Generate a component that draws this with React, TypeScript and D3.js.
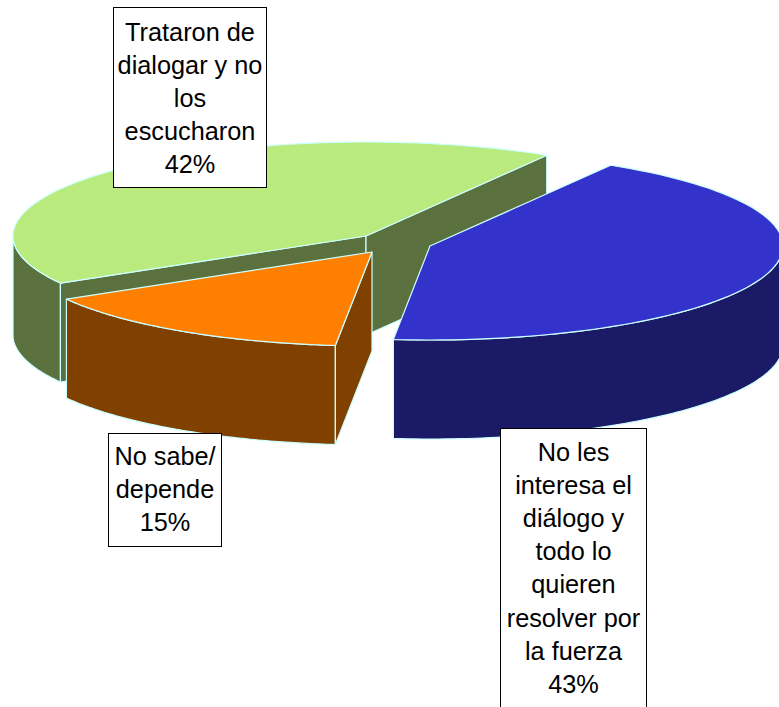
import React from "react";
import * as d3 from "d3";

const categories = ["No les interesa", "No sabe", "Trataron"];
const values = [43.1, 15, 41.9];
const labelLines = [
  ["No les", "interesa el", "diálogo y", "todo lo", "quieren", "resolver por", "la fuerza", "43%"],
  ["No sabe/", "depende", "15%"],
  ["Trataron de", "dialogar y no", "los", "escucharon", "42%"],
];
const topColors = ["#3333cc", "#ff8000", "url(#dGreen)"];
const wallColors = ["#1a1a66", "#804000", "url(#dOlive)"];
const centers: [number, number][] = [[430, 246], [372, 252], [366, 236]];
const boxes = [
  { x: 500.5, y: 428.5, w: 146, h: 290, base: 461 },
  { x: 108.5, y: 433.5, w: 113, h: 113, base: 465 },
  { x: 113.5, y: 7.5, w: 153, h: 180, base: 41 },
];

const RX = 353;
const RY = 94;
const DEPTH = 99;
const START = (30.8 * Math.PI) / 180;
const STROKE = "#ccffff";

const pie = d3.pie<number>().sort(null).startAngle(START).endAngle(START + 2 * Math.PI);
const arcs = pie(values);
const pt = (c: [number, number], t: number, dy = 0): [number, number] => [
  c[0] + RX * Math.sin(t),
  c[1] - RY * Math.cos(t) + dy,
];
const sample = (c: [number, number], a: number, b: number, dy = 0) =>
  d3.range(0, 81).map((i) => pt(c, a + ((b - a) * i) / 80, dy));
const line = d3.line();
const closed = (p: [number, number][]) => line(p) + "Z";

function topPath(i: number) {
  const c = centers[i];
  return closed([c, ...sample(c, arcs[i].startAngle, arcs[i].endAngle)]);
}
function outerWall(i: number, a: number, b: number) {
  const c = centers[i];
  return closed([...sample(c, a, b), ...sample(c, b, a, DEPTH)]);
}
function sideWall(i: number, t: number) {
  const c = centers[i];
  const e = pt(c, t);
  return closed([c, e, [e[0], e[1] + DEPTH], [c[0], c[1] + DEPTH]]);
}
const rad = (d: number) => (d * Math.PI) / 180;

export default function App() {
  const walls = [
    { i: 2, d: outerWall(2, arcs[2].startAngle, rad(270)) },
    { i: 2, d: sideWall(2, arcs[2].startAngle) },
    { i: 2, d: sideWall(2, arcs[2].endAngle) },
  ];
  return (
    <svg
      width={779}
      height={707}
      viewBox="0 0 779 707"
      style={{ position: "absolute", left: 0, top: 0, display: "block", background: "#fff" }}
    >
      <defs>
        <pattern id="dGreen" width={2} height={2} patternUnits="userSpaceOnUse">
          <rect width={2} height={2} fill="#b2e676" />
          <rect width={1} height={1} fill="#c2ee86" />
          <rect x={1} y={1} width={1} height={1} fill="#c2ee86" />
        </pattern>
        <pattern id="dOlive" width={2} height={2} patternUnits="userSpaceOnUse">
          <rect width={2} height={2} fill="#566d3e" />
          <rect width={1} height={1} fill="#5f743f" />
          <rect x={1} y={1} width={1} height={1} fill="#5f743f" />
        </pattern>
      </defs>
      <g stroke={STROKE} strokeWidth={1.2} strokeLinejoin="round">
        {walls.map((w, k) => (
          <path key={k} d={w.d} fill={wallColors[w.i]} />
        ))}
        <path d={topPath(2)} fill={topColors[2]} />

        <path d={outerWall(1, arcs[1].startAngle, arcs[1].endAngle)} fill={wallColors[1]} />
        <path d={sideWall(1, arcs[1].startAngle)} fill={wallColors[1]} />
        <path d={topPath(1)} fill={topColors[1]} />

        <path d={outerWall(0, rad(90), arcs[0].endAngle)} fill={wallColors[0]} />
        <path d={topPath(0)} fill={topColors[0]} />
      </g>
      {boxes.map((b, i) => (
        <g key={categories[i]}>
          <rect x={b.x} y={b.y} width={b.w} height={b.h} fill="#fff" stroke="#000" strokeWidth={1} />
          <text
            fontFamily="'Liberation Sans', Arial, sans-serif"
            fontSize={25.3}
            textAnchor="middle"
            fill="#000"
          >
            {labelLines[i].map((l, j) => (
              <tspan key={j} x={b.x + b.w / 2} y={b.base + j * 33.1}>
                {l}
              </tspan>
            ))}
          </text>
        </g>
      ))}
    </svg>
  );
}
